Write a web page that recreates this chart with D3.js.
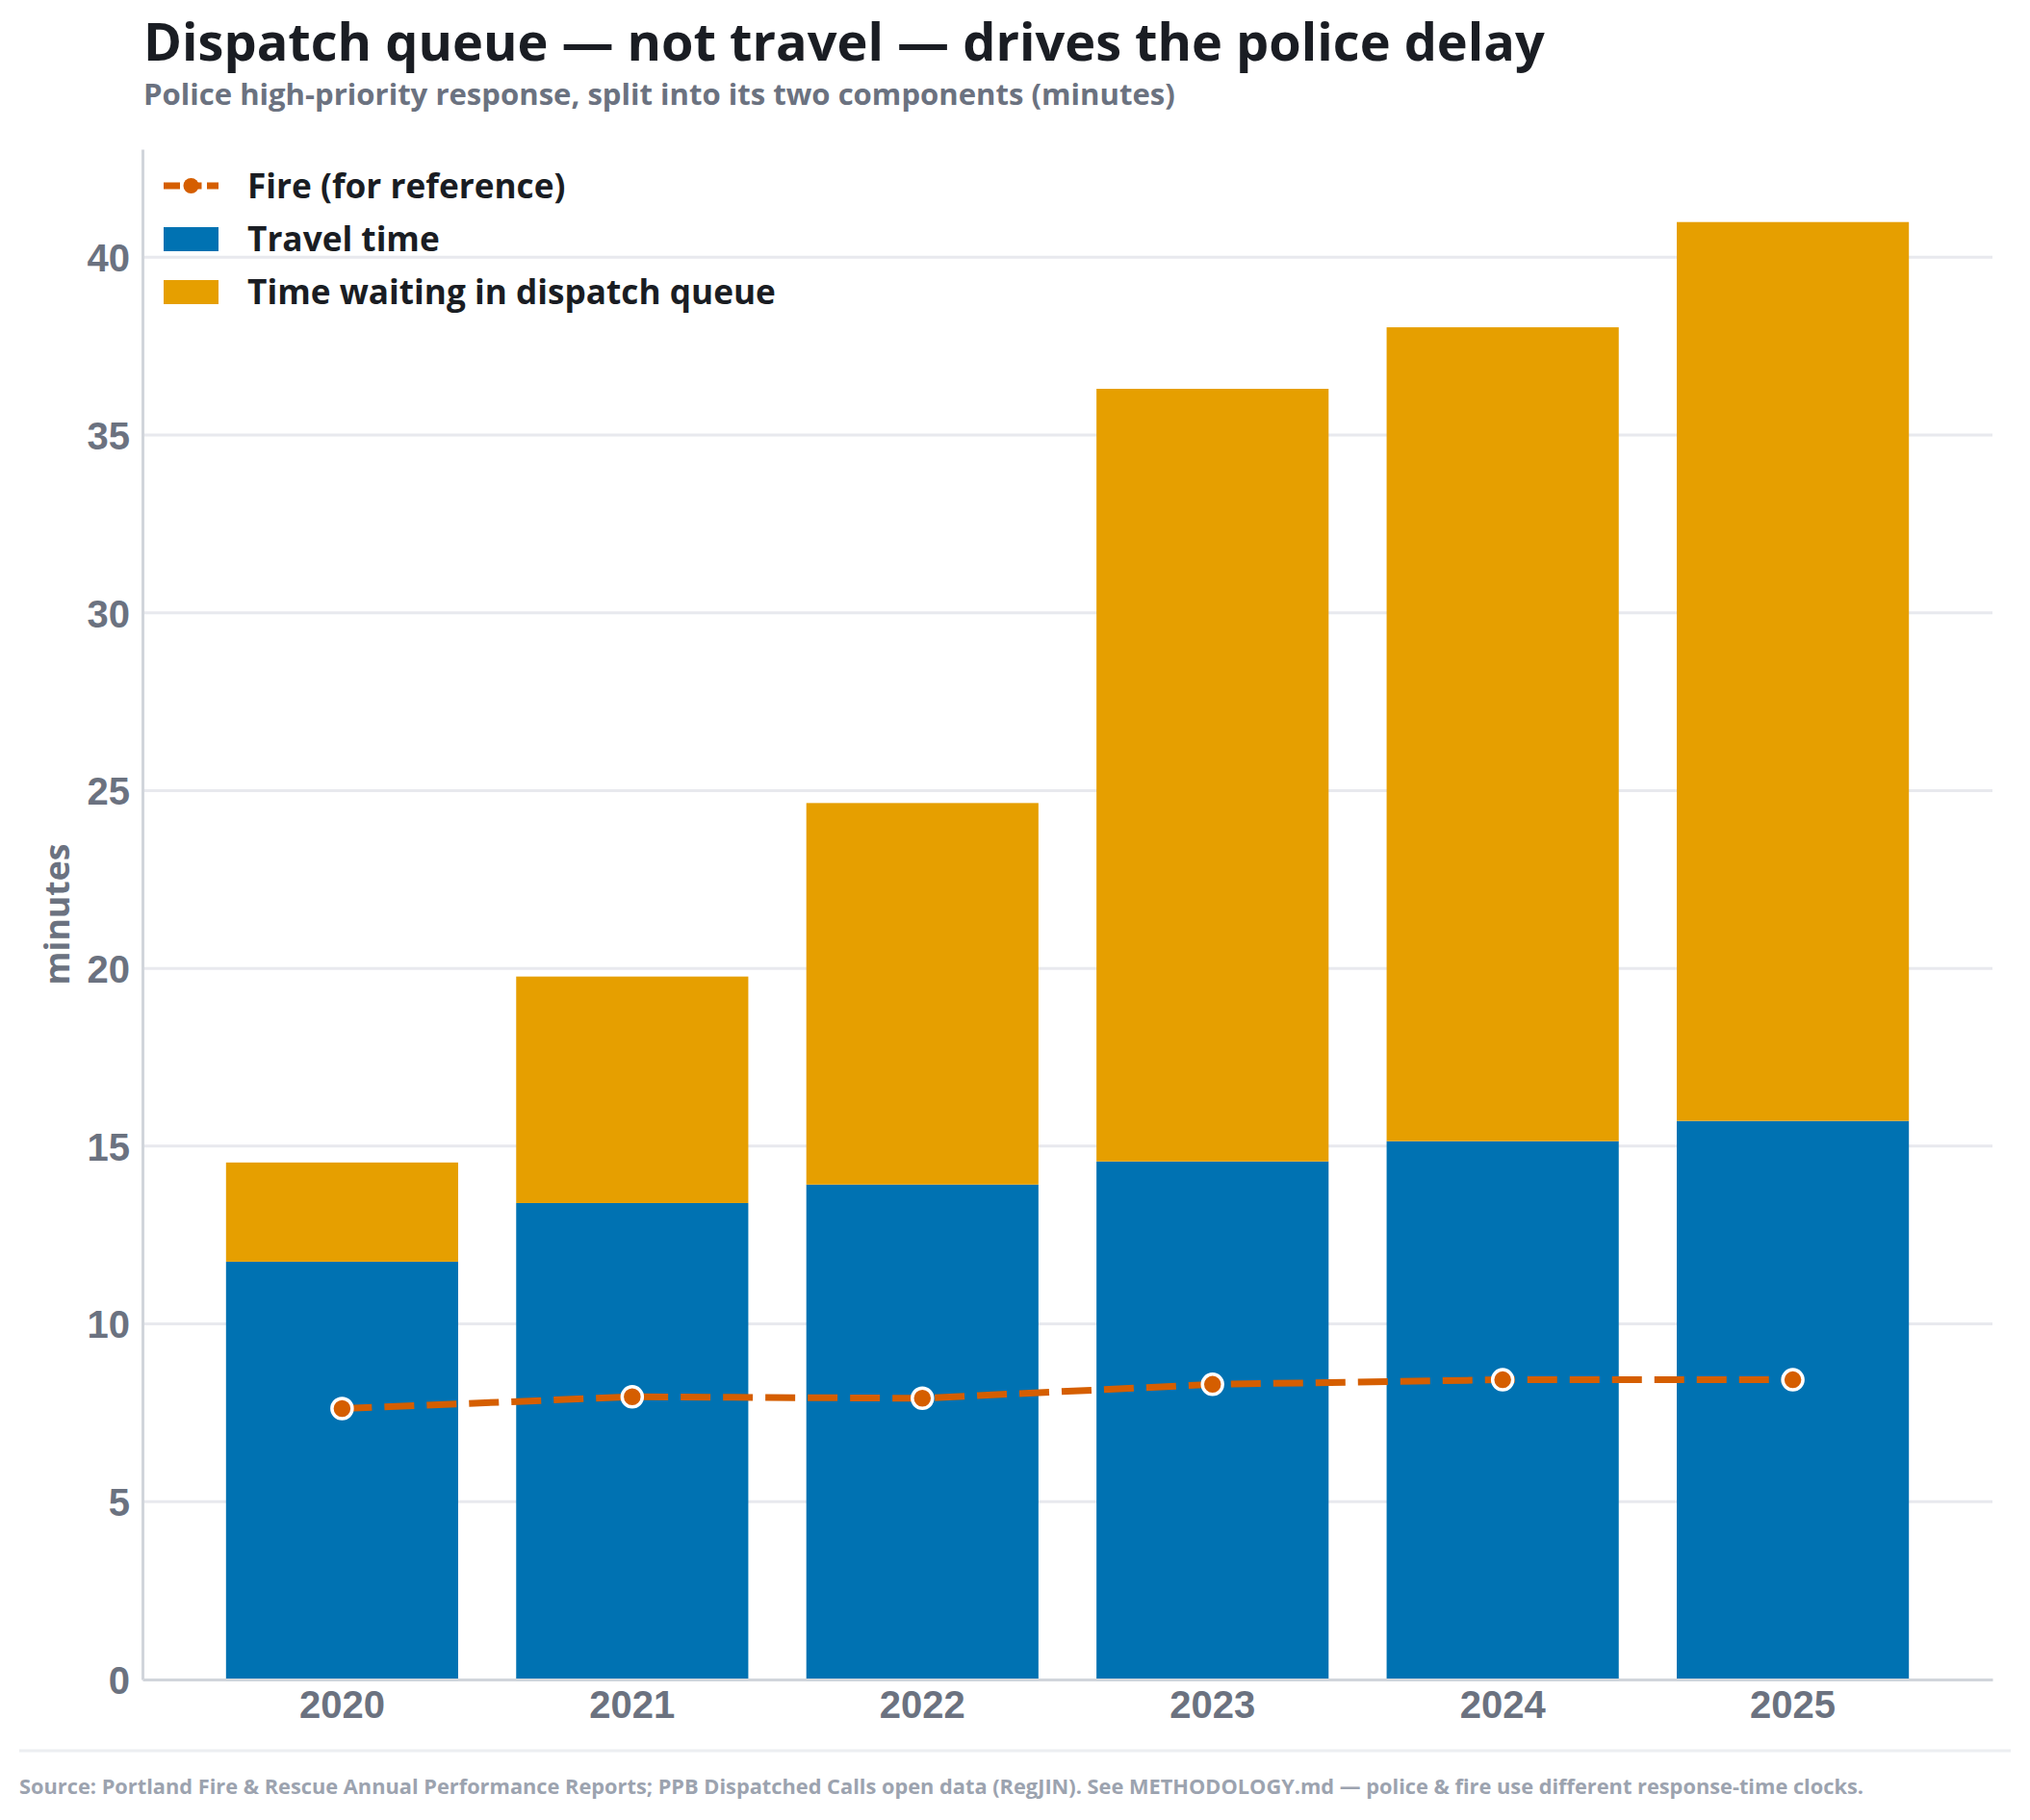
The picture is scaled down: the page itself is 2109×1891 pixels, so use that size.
<!DOCTYPE html>
<html>
<head>
<meta charset="utf-8">
<script src="https://cdn.jsdelivr.net/npm/d3@7"></script>
<style>
	body { margin: 0; background: #fff; }
	text { font-family: "Open Sans", Lato, sans-serif; }
	.tick text { font-family: "Liberation Sans", Arial, sans-serif; font-weight: 700; fill: #6b7280; }
</style>
</head>
<body>
<div id="chart"></div>
<script>
// values (minutes)
const years        = ["2020", "2021", "2022", "2023", "2024", "2025"];
const travelTime   = [11.75, 13.40, 13.92, 14.57, 15.14, 15.71];
const queueTime    = [2.79, 6.37, 10.73, 21.73, 22.89, 25.28];
const fireResponse = [7.62, 7.95, 7.91, 8.30, 8.43, 8.43];
const yTicks       = [0, 5, 10, 15, 20, 25, 30, 35, 40];
const legendLabels = ["Fire (for reference)", "Travel time", "Time waiting in dispatch queue"];

const palette = { travel: "#0072b2", queue: "#e69f00", fire: "#d55e00" };

const canvasWidth  = 2109;
const canvasHeight = 1891;
const margin = { top: 155, right: 39, bottom: 146, left: 148 };
const width  = canvasWidth - margin.left - margin.right;
const height = canvasHeight - margin.top - margin.bottom;

// shrink/grow a text's font size so that it spans the wanted width
function fitText(sel, wanted) {
	let size = +sel.attr("font-size");
	let len  = sel.node().getComputedTextLength();
	sel.attr("font-size", (size * wanted / len).toFixed(2));
	return sel;
}

const rows = years.map((y, i) => ({ year: y, travel: travelTime[i], queue: queueTime[i], fire: fireResponse[i] }));
const stacked = d3.stack().keys(["travel", "queue"])(rows);

const x = d3.scaleBand().domain(years).range([0, width]).paddingInner(0.2).paddingOuter(0.288);
const y = d3.scaleLinear().domain([0, d3.max(rows, (o) => o.travel + o.queue) * 1.05]).range([height, 0]);

const root = d3.select("#chart").append("svg")
	.attr("width", canvasWidth)
	.attr("height", canvasHeight);

// title block
root.append("text")
	.attr("x", 149).attr("y", 63)
	.attr("font-size", 56).attr("font-weight", 700).attr("fill", "#1a1d23")
	.text("Dispatch queue \u2014 not travel \u2014 drives the police delay")
	.call(fitText, 1456);
root.append("text")
	.attr("x", 149).attr("y", 109)
	.attr("font-size", 31).attr("font-weight", 700).attr("fill", "#6b7280")
	.text("Police high-priority response, split into its two components (minutes)")
	.call(fitText, 1072);

const svg = root.append("g").attr("transform", "translate(" + margin.left + "," + margin.top + ")");

// grid
svg.append("g").attr("class", "grid-wrapper")
	.selectAll("line").data(yTicks.slice(1)).enter().append("line")
	.attr("x1", 0).attr("x2", width)
	.attr("y1", (o) => y(o)).attr("y2", (o) => y(o))
	.attr("stroke", "#e8e9ee").attr("stroke-width", 3);

// stacked bars
svg.append("g").selectAll("g").data(stacked).enter().append("g")
	.attr("fill", (s) => palette[s.key])
	.selectAll("rect").data((s) => s).enter().append("rect")
	.attr("x", (d) => x(d.data.year))
	.attr("width", x.bandwidth())
	.attr("y", (d) => y(d[1]))
	.attr("height", (d) => y(d[0]) - y(d[1]));

// axes
const yAxis = svg.append("g")
	.call(d3.axisLeft(y).tickValues(yTicks).tickSize(0).tickPadding(13));
yAxis.select(".domain").attr("stroke", "#d1d5db").attr("stroke-width", 3);
yAxis.selectAll(".tick text").attr("font-size", 40).attr("dy", "0.36em");

const xAxis = svg.append("g")
	.attr("transform", "translate(0," + height + ")")
	.call(d3.axisBottom(x).tickSize(0).tickPadding(12));
xAxis.select(".domain").attr("stroke", "#d1d5db").attr("stroke-width", 3);
xAxis.selectAll(".tick text").attr("font-size", 40);

svg.append("text")
	.attr("transform", "translate(" + (60 - margin.left) + "," + (height / 2) + ") rotate(-90)")
	.attr("text-anchor", "middle").attr("dy", "0.35em")
	.attr("font-size", 34).attr("font-weight", 700).attr("fill", "#6b7280")
	.text("minutes")
	.call(fitText, 147);

// fire reference line
const cx = (o) => x(o.year) + x.bandwidth() / 2;
svg.append("path").datum(rows)
	.attr("fill", "none")
	.attr("stroke", palette.fire).attr("stroke-width", 7)
	.attr("stroke-dasharray", "31,13")
	.attr("d", d3.line().x(cx).y((o) => y(o.fire)));
svg.append("g").selectAll("circle").data(rows).enter().append("circle")
	.attr("cx", cx).attr("cy", (o) => y(o.fire))
	.attr("r", 10.5).attr("fill", palette.fire)
	.attr("stroke", "#fff").attr("stroke-width", 3.5);

// legend
const legend = root.append("g").attr("transform", "translate(170,193)");
legend.append("line").attr("x1", 0).attr("x2", 57).attr("y1", 0).attr("y2", 0)
	.attr("stroke", palette.fire).attr("stroke-width", 7).attr("stroke-dasharray", "17,5.5");
legend.append("circle").attr("cx", 28.5).attr("cy", 0).attr("r", 8).attr("fill", palette.fire);
legend.append("rect").attr("x", 0).attr("y", 43).attr("width", 57).attr("height", 25).attr("fill", palette.travel);
legend.append("rect").attr("x", 0).attr("y", 98).attr("width", 57).attr("height", 25).attr("fill", palette.queue);
const legendText = legend.selectAll("text.lab").data(legendLabels).enter().append("text")
	.attr("class", "lab")
	.attr("x", 87).attr("y", (o, i) => i * 55 + 13)
	.attr("font-size", 36).attr("font-weight", 700).attr("fill", "#1a1d23")
	.text((o) => o);
fitText(legendText.filter((o, i) => i === 2), 549);
legendText.attr("font-size", legendText.filter((o, i) => i === 2).attr("font-size"));

// footer
root.append("line").attr("x1", 20).attr("x2", 2089).attr("y1", 1819).attr("y2", 1819)
	.attr("stroke", "#eceef1").attr("stroke-width", 3);
root.append("text")
	.attr("x", 20).attr("y", 1864)
	.attr("font-size", 19).attr("font-weight", 700).attr("fill", "#9ca3af")
	.text("Source: Portland Fire & Rescue Annual Performance Reports; PPB Dispatched Calls open data (RegJIN). See METHODOLOGY.md \u2014 police & fire use different response-time clocks.")
	.call(fitText, 1917);
</script>
</body>
</html>
